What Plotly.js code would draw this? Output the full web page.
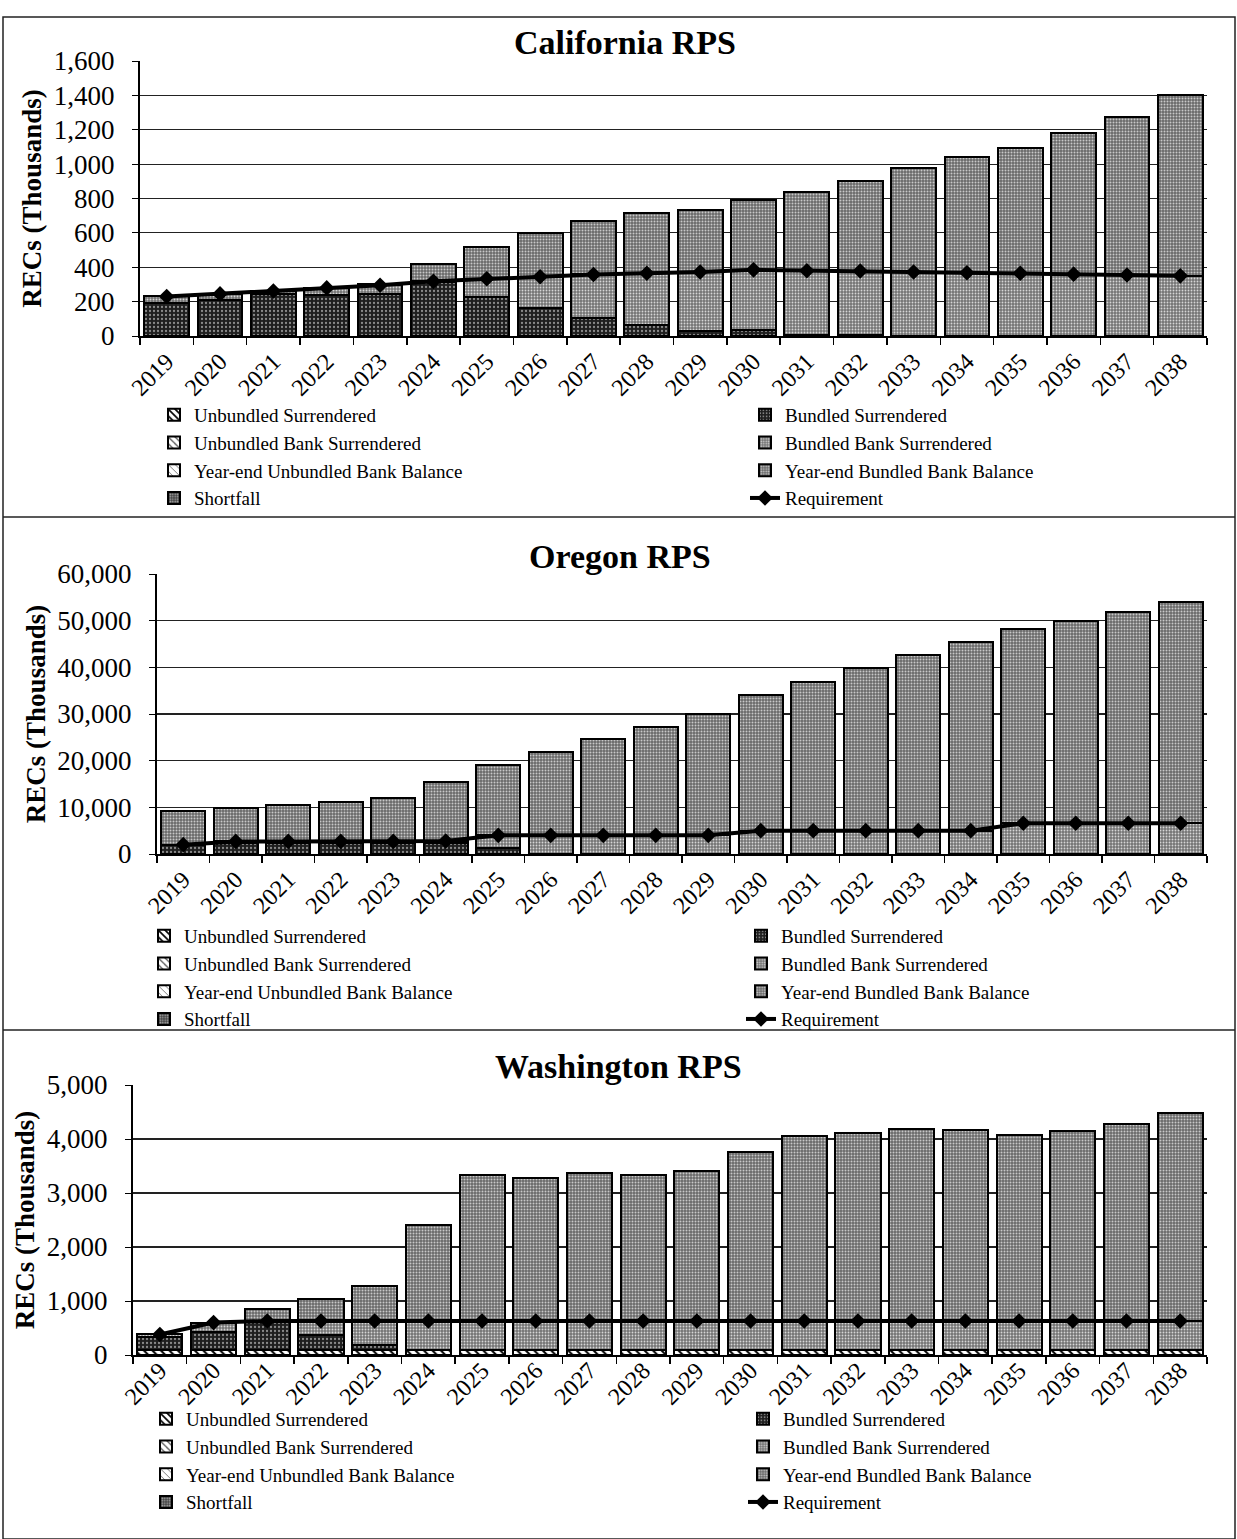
<!DOCTYPE html>
<html>
<head>
<meta charset="utf-8">
<script src="https://cdn.plot.ly/plotly-3.0.1.min.js"></script>
<style>html,body{margin:0;padding:0;background:#fff;}#chart{width:1237px;height:1539px;}</style>
</head>
<body>
<div id="chart"></div>
<script>
// ---------- categories ----------
const years = ['2019','2020','2021','2022','2023','2024','2025','2026','2027','2028',
               '2029','2030','2031','2032','2033','2034','2035','2036','2037','2038'];

const seriesNames = ['Unbundled Surrendered','Bundled Surrendered','Unbundled Bank Surrendered',
  'Bundled Bank Surrendered','Year-end Unbundled Bank Balance','Year-end Bundled Bank Balance',
  'Shortfall','Requirement'];

// ---------- California RPS (thousand RECs) ----------
const caUnbundledSurr     = [0,0,0,0,0,0,0,0,0,0,0,0,0,0,0,0,0,0,0,0];
const caBundledSurr       = [190,210,245,240,245,315,228,162,107,62,32,36,5,3,0,0,0,0,0,0];
const caUnbundledBankSurr = [0,0,0,0,0,0,0,0,0,0,0,0,0,0,0,0,0,0,0,0];
const caBundledBankSurr   = [40,35,17,40,50,3,105,183,251,303,340,349,375,375,372,368,365,360,355,350];
const caUnbundledBal      = [0,0,0,0,0,0,0,0,0,0,0,0,0,0,0,0,0,0,0,0];
const caBundledBal        = [0,0,0,0,5,103,184,252,311,351,360,405,459,523,605,671,730,821,919,1050];
const caShortfall         = [0,0,0,0,0,0,0,0,0,0,0,0,0,0,0,0,0,0,0,0];
const caRequirement       = [230,245,262,280,295,318,333,345,358,365,372,385,380,378,372,368,365,360,355,350];

// ---------- Oregon RPS ----------
const orUnbundledSurr     = [0,0,0,0,0,0,0,0,0,0,0,0,0,0,0,0,0,0,0,0];
const orBundledSurr       = [1900,2300,2300,2300,2300,2300,1200,0,0,0,0,0,0,0,0,0,0,0,0,0];
const orUnbundledBankSurr = [0,0,0,0,0,0,0,0,0,0,0,0,0,0,0,0,0,0,0,0];
const orBundledBankSurr   = [100,400,400,400,400,500,2800,4000,4000,4000,4000,5000,5000,5000,5000,5000,6600,6600,6600,6600];
const orUnbundledBal      = [0,0,0,0,0,0,0,0,0,0,0,0,0,0,0,0,0,0,0,0];
const orBundledBal        = [7300,7200,7800,8400,9200,12600,15100,17900,20700,23200,26100,29000,31900,34800,37700,40500,41600,43400,45300,47500];
const orShortfall         = [0,0,0,0,0,0,0,0,0,0,0,0,0,0,0,0,0,0,0,0];
const orRequirement       = [2000,2700,2700,2700,2700,2800,4000,4000,4000,4000,4000,5000,5000,5000,5000,5000,6600,6600,6600,6600];

// ---------- Washington RPS ----------
const waUnbundledSurr     = [100,100,100,100,100,100,100,100,100,100,100,100,100,100,100,100,100,100,100,100];
const waBundledSurr       = [230,330,530,270,80,0,0,0,0,0,0,0,0,0,0,0,0,0,0,0];
const waUnbundledBankSurr = [0,0,0,0,0,0,0,0,0,0,0,0,0,0,0,0,0,0,0,0];
const waBundledBankSurr   = [50,170,0,260,450,530,530,530,530,530,530,530,530,530,530,530,530,530,530,530];
const waUnbundledBal      = [0,0,0,0,0,0,0,0,0,0,0,0,0,0,0,0,0,0,0,0];
const waBundledBal        = [0,0,220,410,650,1770,2710,2650,2740,2710,2780,3130,3420,3480,3550,3530,3450,3510,3640,3850];
const waShortfall         = [0,0,0,0,0,0,0,0,0,0,0,0,0,0,0,0,0,0,0,0];
const waRequirement       = [380,600,630,630,630,630,630,630,630,630,630,630,630,630,630,630,630,630,630,630];

// ---------- styles ----------
const SERIF = '"Liberation Serif", "Times New Roman", serif';
const barStyles = [
  {color:'#ffffff', pattern:{shape:'\\', fgcolor:'#000', bgcolor:'#fff', size:6, solidity:0.35}},
  {color:'#222222', pattern:{shape:'.', fgcolor:'#8a8a8a', bgcolor:'#1e1e1e', size:4, solidity:0.25}},
  {color:'#ffffff', pattern:{shape:'\\', fgcolor:'#444', bgcolor:'#fff', size:6, solidity:0.25}},
  {color:'#7c7c7c', pattern:{shape:'.', fgcolor:'#d6d6d6', bgcolor:'#747474', size:3, solidity:0.3}},
  {color:'#ffffff', pattern:{shape:'\\', fgcolor:'#777', bgcolor:'#fff', size:6, solidity:0.2}},
  {color:'#6e6e6e', pattern:{shape:'.', fgcolor:'#c8c8c8', bgcolor:'#686868', size:3, solidity:0.35}},
  {color:'#4a4a4a', pattern:{shape:'.', fgcolor:'#aaaaaa', bgcolor:'#444444', size:3, solidity:0.3}}
];

function panelTraces(xa, ya, legendId, barSeries, requirement) {
  const traces = [];
  barSeries.forEach((vals, i) => {
    traces.push({
      type:'bar', x: years, y: vals, name: seriesNames[i],
      xaxis: xa, yaxis: ya, legend: legendId,
      marker: {color: barStyles[i].color, pattern: barStyles[i].pattern,
               line: {color:'#000', width:2}},
      hoverinfo:'x+y+name'
    });
  });
  traces.push({
    type:'scatter', mode:'lines+markers', x: years, y: requirement, name: seriesNames[7],
    xaxis: xa, yaxis: ya, legend: legendId, cliponaxis:false,
    line: {color:'#000', width:4}, marker: {symbol:'diamond', size:12, color:'#000'}
  });
  return traces;
}

const data = [].concat(
  panelTraces('x','y','legend',
    [caUnbundledSurr, caBundledSurr, caUnbundledBankSurr, caBundledBankSurr, caUnbundledBal, caBundledBal, caShortfall], caRequirement),
  panelTraces('x2','y2','legend2',
    [orUnbundledSurr, orBundledSurr, orUnbundledBankSurr, orBundledBankSurr, orUnbundledBal, orBundledBal, orShortfall], orRequirement),
  panelTraces('x3','y3','legend3',
    [waUnbundledSurr, waBundledSurr, waUnbundledBankSurr, waBundledBankSurr, waUnbundledBal, waBundledBal, waShortfall], waRequirement)
);

function xAxis(domain, anchor, standoff) {
  return {domain: domain, anchor: anchor, type:'category', range:[-0.5, 19.5], autorange:false,
    tickangle:-45, ticklabelstandoff: standoff,
    tickfont:{family:SERIF, size:24, color:'#000'},
    showline:true, linecolor:'#000', linewidth:2, ticks:'outside', tickson:'boundaries',
    ticklen:7, tickcolor:'#000', tickwidth:1.5, showgrid:false, zeroline:false, fixedrange:true};
}
function yAxis(domain, anchor, range, dtick) {
  return {domain: domain, anchor: anchor, range: range, autorange:false, dtick: dtick, tickformat:',d',
    showline:true, linecolor:'#000', linewidth:2, ticks:'outside', ticklen:6, tickcolor:'#000',
    ticklabelstandoff: 12,
    showgrid:true, gridcolor:'#222', gridwidth:1.2, zeroline:false,
    tickfont:{family:SERIF, size:27, color:'#000'},
    title:{text:'<b>RECs (Thousands)</b>', font:{family:SERIF, size:27, color:'#000'}, standoff:4},
    fixedrange:true};
}
function legendDef(x, y, ew) {
  return {x:x, y:y, xanchor:'left', yanchor:'top', orientation:'h', entrywidth:ew,
    traceorder:'normal', bgcolor:'rgba(0,0,0,0)', borderwidth:0,
    font:{family:SERIF, size:19, color:'#000'}};
}

const H = 1539, W = 1237;
const py = p => 1 - p / H;   // pixel row -> paper y
const px = p => p / W;       // pixel col -> paper x

const layout = {
  width: W, height: H,
  margin: {l:0, r:0, t:0, b:0, autoexpand:false},
  paper_bgcolor:'#fff', plot_bgcolor:'#fff',
  barmode:'stack', bargap:0.16,
  showlegend:true,
  xaxis:  xAxis([px(140), px(1207)], 'y', 0),
  yaxis:  yAxis([py(336), py(61)], 'x', [0,1600], 200),
  xaxis2: xAxis([px(157), px(1207)], 'y2', 0),
  yaxis2: yAxis([py(854), py(574)], 'x2', [0,60000], 10000),
  xaxis3: xAxis([px(133), px(1207)], 'y3', -10),
  yaxis3: yAxis([py(1355), py(1085)], 'x3', [0,5000], 1000),
  legend:  legendDef(px(154), py(396), 546),
  legend2: legendDef(px(144), py(917), 552),
  legend3: legendDef(px(146), py(1400), 552),
  annotations: [
    {text:'<b>California RPS</b>', xref:'paper', yref:'paper', x:px(625), y:py(42), xanchor:'center', yanchor:'middle', showarrow:false, font:{family:SERIF, size:34, color:'#000'}},
    {text:'<b>Oregon RPS</b>', xref:'paper', yref:'paper', x:px(620), y:py(557), xanchor:'center', yanchor:'middle', showarrow:false, font:{family:SERIF, size:34, color:'#000'}},
    {text:'<b>Washington RPS</b>', xref:'paper', yref:'paper', x:px(618), y:py(1066), xanchor:'center', yanchor:'middle', showarrow:false, font:{family:SERIF, size:34, color:'#000'}}
  ],
  shapes: [
    {type:'rect', xref:'paper', yref:'paper', x0:px(3), x1:px(1235), y0:0, y1:py(17), line:{color:'#222', width:1.5}},
    {type:'line', xref:'paper', yref:'paper', x0:px(3), x1:px(1235), y0:py(517), y1:py(517), line:{color:'#222', width:1.5}},
    {type:'line', xref:'paper', yref:'paper', x0:px(3), x1:px(1235), y0:py(1030), y1:py(1030), line:{color:'#222', width:1.5}}
  ]
};

Plotly.newPlot('chart', data, layout, {displayModeBar:false, staticPlot:true});
</script>
</body>
</html>
